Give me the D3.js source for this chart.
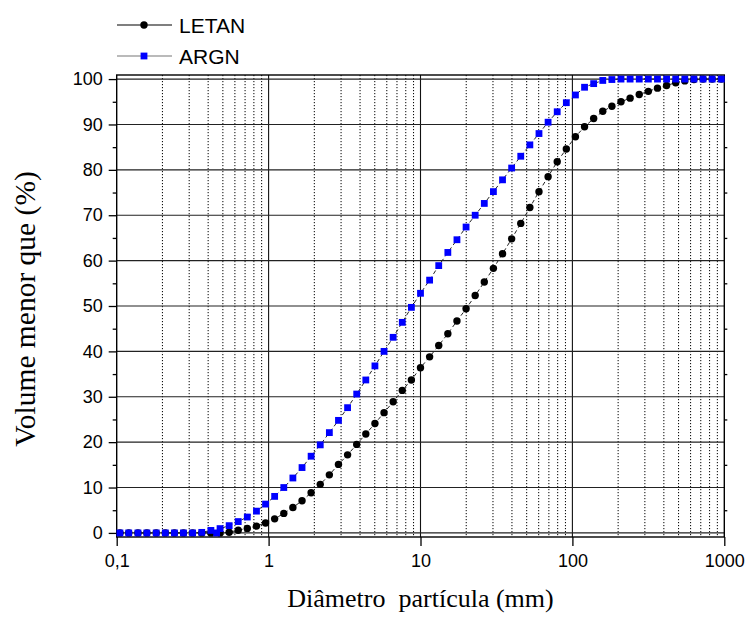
<!DOCTYPE html>
<html>
<head>
<meta charset="utf-8">
<script src="https://cdn.jsdelivr.net/npm/d3@7.9.0/dist/d3.min.js"></script>
<style>
  body { margin: 0; background: #fff; }
  svg text { font-family: "Liberation Sans", Arial, sans-serif; }
  .title { font-family: "Liberation Serif", "Times New Roman", serif !important; }
</style>
</head>
<body>
<svg id="chart" width="746" height="617"></svg>
<script>
// particle size classes (mm)
const sizes = [
  0.105, 0.120, 0.138, 0.158, 0.182, 0.209, 0.240, 0.275, 0.316, 0.363,
  0.417, 0.479, 0.550, 0.631, 0.724, 0.832, 0.955, 1.096, 1.259, 1.445,
  1.660, 1.905, 2.188, 2.512, 2.884, 3.311, 3.802, 4.365, 5.012, 5.754,
  6.607, 7.586, 8.710, 10.000, 11.482, 13.183, 15.136, 17.378, 19.953, 22.909,
  26.303, 30.200, 34.674, 39.811, 45.709, 52.481, 60.256, 69.183, 79.433, 91.201,
  104.713, 120.226, 138.038, 158.489, 181.970, 208.930, 239.883, 275.423, 316.228, 363.078,
  416.869, 478.630, 549.541, 630.957, 724.436, 831.764, 954.993
];

const letan = [
  0, 0, 0, 0, 0, 0, 0, 0, 0, 0,
  0, 0, 0.15, 0.6, 1.0, 1.5, 2.2, 3.1, 4.3, 5.6,
  7.1, 8.85, 10.7, 12.8, 15.1, 17.2, 19.5, 21.8, 24.1, 26.5,
  28.9, 31.4, 33.7, 36.4, 38.8, 41.3, 43.9, 46.7, 49.4, 52.3,
  55.3, 58.3, 61.5, 64.8, 68.2, 71.7, 75.2, 78.5, 81.8, 84.6,
  87.3, 89.5, 91.3, 92.9, 94.0, 95.0, 95.8, 96.6, 97.3, 98.0,
  98.6, 99.2, 99.6, 99.9, 100, 100, 100
];

const argn = [
  0, 0, 0, 0, 0, 0, 0, 0, 0, 0.12,
  0.55, 0.95, 1.6, 2.5, 3.5, 4.8, 6.35, 8.05, 10.0, 12.1,
  14.4, 16.9, 19.4, 22.1, 24.8, 27.6, 30.6, 33.7, 36.8, 40.0,
  43.1, 46.4, 49.7, 52.8, 55.7, 58.9, 61.8, 64.6, 67.4, 70.0,
  72.6, 75.2, 77.8, 80.4, 83.0, 85.5, 88.0, 90.5, 92.8, 94.8,
  96.5, 98.2, 99.0, 99.7, 99.9, 100, 100, 100, 100, 100,
  100, 100, 100, 100, 100, 100, 100
];
// one stray ARGN reading that sits between two classes
const argnExtra = [[0.455, 0]];

const xTicks = [0.1, 1, 10, 100, 1000];
const yTicks = [0, 10, 20, 30, 40, 50, 60, 70, 80, 90, 100];
const yMinor = [5, 15, 25, 35, 45, 55, 65, 75, 85, 95];

const svg = d3.select("#chart");
const plotLeft = 116.7, plotRight = 724.3, plotTop = 75, plotBottom = 537;

const x = d3.scaleLog().domain([0.1, 1000]).range([plotLeft, plotRight]);
const y = d3.scaleLinear().domain([-0.9, 100.9]).range([plotBottom, plotTop]);

const comma = d3.formatLocale({ decimal: ",", thousands: "", grouping: [3], currency: ["", ""] });
const fmt = (d) => comma.format("~g")(d);

// minor vertical grid (dotted)
const minorX = [];
[0.1, 1, 10, 100].forEach((dec) => {
  for (let m = 2; m <= 9; m++) minorX.push(dec * m);
});
svg.append("g")
  .selectAll("line")
  .data(minorX)
  .join("line")
  .attr("x1", (d) => x(d)).attr("x2", (d) => x(d))
  .attr("y1", plotTop).attr("y2", plotBottom)
  .attr("stroke", "#000")
  .attr("stroke-width", 1)
  .attr("stroke-dasharray", "1.2,1.8");

// major grid
svg.append("g")
  .selectAll("line")
  .data([1, 10, 100])
  .join("line")
  .attr("x1", (d) => x(d)).attr("x2", (d) => x(d))
  .attr("y1", plotTop).attr("y2", plotBottom)
  .attr("stroke", "#111").attr("stroke-width", 1.1);

svg.append("g")
  .selectAll("line")
  .data(yTicks)
  .join("line")
  .attr("x1", plotLeft).attr("x2", plotRight)
  .attr("y1", (d) => y(d)).attr("y2", (d) => y(d))
  .attr("stroke", "#222").attr("stroke-width", 1.1);

// frame
svg.append("rect")
  .attr("x", plotLeft).attr("y", plotTop)
  .attr("width", plotRight - plotLeft).attr("height", plotBottom - plotTop)
  .attr("fill", "none").attr("stroke", "#000").attr("stroke-width", 1.4);

// axes
svg.append("g")
  .attr("transform", `translate(${plotLeft},0)`)
  .call(d3.axisLeft(y).tickValues(yTicks).tickSize(8).tickPadding(6).tickFormat(fmt));
svg.append("g")
  .attr("transform", `translate(${plotLeft},0)`)
  .call(d3.axisLeft(y).tickValues(yMinor).tickSize(4).tickFormat(""));
svg.append("g")
  .attr("transform", `translate(${plotRight},0)`)
  .call(d3.axisRight(y).tickValues(yMinor).tickSize(3).tickFormat(""));
svg.append("g")
  .attr("transform", `translate(0,${plotBottom})`)
  .call(d3.axisBottom(x).tickValues(xTicks).tickSize(9).tickPadding(8).tickFormat(fmt));

svg.selectAll(".domain").remove();
svg.selectAll(".tick line").attr("stroke", "#000").attr("stroke-width", 1.3);
svg.selectAll(".tick text").attr("font-size", 18).attr("fill", "#000")
  .attr("font-family", "'Liberation Sans', Arial, sans-serif");

// series
const letanData = sizes.map((s, i) => [s, letan[i]]);
const argnData = sizes.map((s, i) => [s, argn[i]]).concat(argnExtra)
  .sort((a, b) => a[0] - b[0]);

const line = d3.line().x((d) => x(d[0])).y((d) => y(d[1]));

svg.append("path").datum(letanData)
  .attr("d", line).attr("fill", "none")
  .attr("stroke", "#222").attr("stroke-width", 1).attr("stroke-dasharray", "4,3");
svg.append("g")
  .selectAll("circle")
  .data(letanData)
  .join("circle")
  .attr("cx", (d) => x(d[0])).attr("cy", (d) => y(d[1]))
  .attr("r", 3.7).attr("fill", "#000");

svg.append("path").datum(argnData)
  .attr("d", line).attr("fill", "none")
  .attr("stroke", "#222").attr("stroke-width", 1).attr("stroke-dasharray", "4,3");
const sq = 6.8;
svg.append("g")
  .selectAll("rect")
  .data(argnData)
  .join("rect")
  .attr("x", (d) => x(d[0]) - sq / 2).attr("y", (d) => y(d[1]) - sq / 2)
  .attr("width", sq).attr("height", sq)
  .attr("fill", "#0000ff");

// legend
const legend = svg.append("g");
legend.append("line").attr("x1", 117).attr("x2", 172).attr("y1", 25).attr("y2", 25)
  .attr("stroke", "#000").attr("stroke-width", 1.2);
legend.append("circle").attr("cx", 144).attr("cy", 25).attr("r", 3.7).attr("fill", "#000");
legend.append("text").attr("x", 179).attr("y", 32.5).attr("font-size", 21).text("LETAN");

legend.append("line").attr("x1", 117).attr("x2", 172).attr("y1", 56).attr("y2", 56)
  .attr("stroke", "#777").attr("stroke-width", 1.2);
legend.append("rect").attr("x", 144 - sq / 2).attr("y", 56 - sq / 2)
  .attr("width", sq).attr("height", sq).attr("fill", "#0000ff");
legend.append("text").attr("x", 179).attr("y", 63.5).attr("font-size", 21).text("ARGN");

// axis titles
svg.append("text").attr("class", "title")
  .attr("x", (plotLeft + plotRight) / 2).attr("y", 607)
  .attr("text-anchor", "middle")
  .attr("font-size", 26)
  .style("white-space", "pre")
  .text("Diâmetro  partícula (mm)");

svg.append("text").attr("class", "title")
  .attr("transform", `translate(35,${(plotTop + plotBottom) / 2 + 3}) rotate(-90)`)
  .attr("text-anchor", "middle")
  .attr("font-size", 29.5)
  .text("Volume menor que (%)");
</script>
</body>
</html>
